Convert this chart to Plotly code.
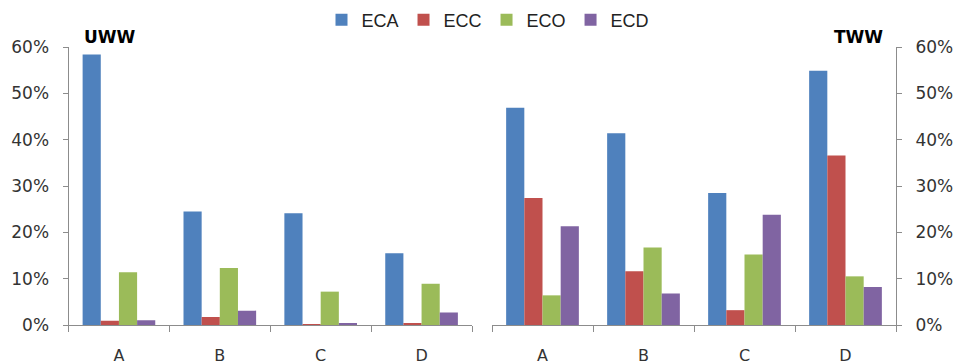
import plotly.graph_objects as go
from plotly.subplots import make_subplots

categories = ["A", "B", "C", "D"]
series_names = ["ECA", "ECC", "ECO", "ECD"]
uww_eca = [0.584, 0.245, 0.241, 0.155]
uww_ecc = [0.009, 0.017, 0.002, 0.004]
uww_eco = [0.114, 0.123, 0.072, 0.089]
uww_ecd = [0.010, 0.031, 0.004, 0.027]
tww_eca = [0.469, 0.414, 0.285, 0.549]
tww_ecc = [0.274, 0.116, 0.032, 0.366]
tww_eco = [0.064, 0.167, 0.152, 0.105]
tww_ecd = [0.213, 0.068, 0.238, 0.082]
y_ticks = [0, 0.1, 0.2, 0.3, 0.4, 0.5, 0.6]
colors = ["#4F81BD", "#C0504D", "#9BBB59", "#8064A2"]

uww = [uww_eca, uww_ecc, uww_eco, uww_ecd]
tww = [tww_eca, tww_ecc, tww_eco, tww_ecd]

W, H = 963, 364
TOP, BOT = 47, 325
fig = make_subplots(rows=1, cols=2)
for i, name in enumerate(series_names):
    fig.add_trace(go.Bar(x=categories, y=uww[i], name=name, marker_color=colors[i],
                         marker_line_width=0, legendgroup=name, showlegend=True), 1, 1)
    fig.add_trace(go.Bar(x=categories, y=tww[i], name=name, marker_color=colors[i],
                         marker_line_width=0, legendgroup=name, showlegend=False), 1, 2)

axis_col = "#8C8C8C"
tick_font = dict(family="DejaVu Sans", size=17, color="#333333")
xcommon = dict(showline=True, linecolor=axis_col, linewidth=1, ticks="outside",
               tickson="boundaries", ticklen=6, tickcolor=axis_col,
               tickfont=dict(family="DejaVu Sans", size=16, color="#333333"),
               ticklabelstandoff=16, showgrid=False, zeroline=False, fixedrange=True)
ycommon = dict(range=[0, 0.6], tickvals=y_ticks, tickformat=".0%", showline=True,
               linecolor=axis_col, linewidth=1, ticks="outside", ticklen=5,
               tickcolor=axis_col, tickfont=tick_font, showgrid=False, zeroline=False,
               ticklabelstandoff=10, fixedrange=True)

ph = BOT - TOP
fig.update_layout(
    width=W, height=H,
    margin=dict(l=0, r=0, t=TOP, b=H - BOT, autoexpand=False),
    paper_bgcolor="white", plot_bgcolor="white",
    barmode="group", bargap=0.28, bargroupgap=0,
    xaxis=dict(domain=[68.5 / W, 472 / W], **xcommon),
    xaxis2=dict(domain=[492 / W, 896 / W], **xcommon),
    yaxis=dict(side="left", **ycommon),
    yaxis2=dict(side="right", anchor="x2", **ycommon),
    legend=dict(orientation="h", x=488 / W, xanchor="center", y=(BOT - 20) / ph, yanchor="middle",
                yref="paper", font=dict(family="Liberation Sans", size=18, color="#222222"),
                traceorder="normal"),
    showlegend=True,
    annotations=[
        dict(text="<b>UWW</b>", x=110 / W, y=(BOT - 37) / ph, xref="paper", yref="paper",
             xanchor="center", yanchor="middle", showarrow=False,
             font=dict(family="DejaVu Sans", size=17, color="black")),
        dict(text="<b>TWW</b>", x=858 / W, y=(BOT - 37) / ph, xref="paper", yref="paper",
             xanchor="center", yanchor="middle", showarrow=False,
             font=dict(family="DejaVu Sans", size=17, color="black")),
    ],
)
fig.write_html("out.html", config={"displayModeBar": False},
               post_script="document.body.style.margin='0';")
